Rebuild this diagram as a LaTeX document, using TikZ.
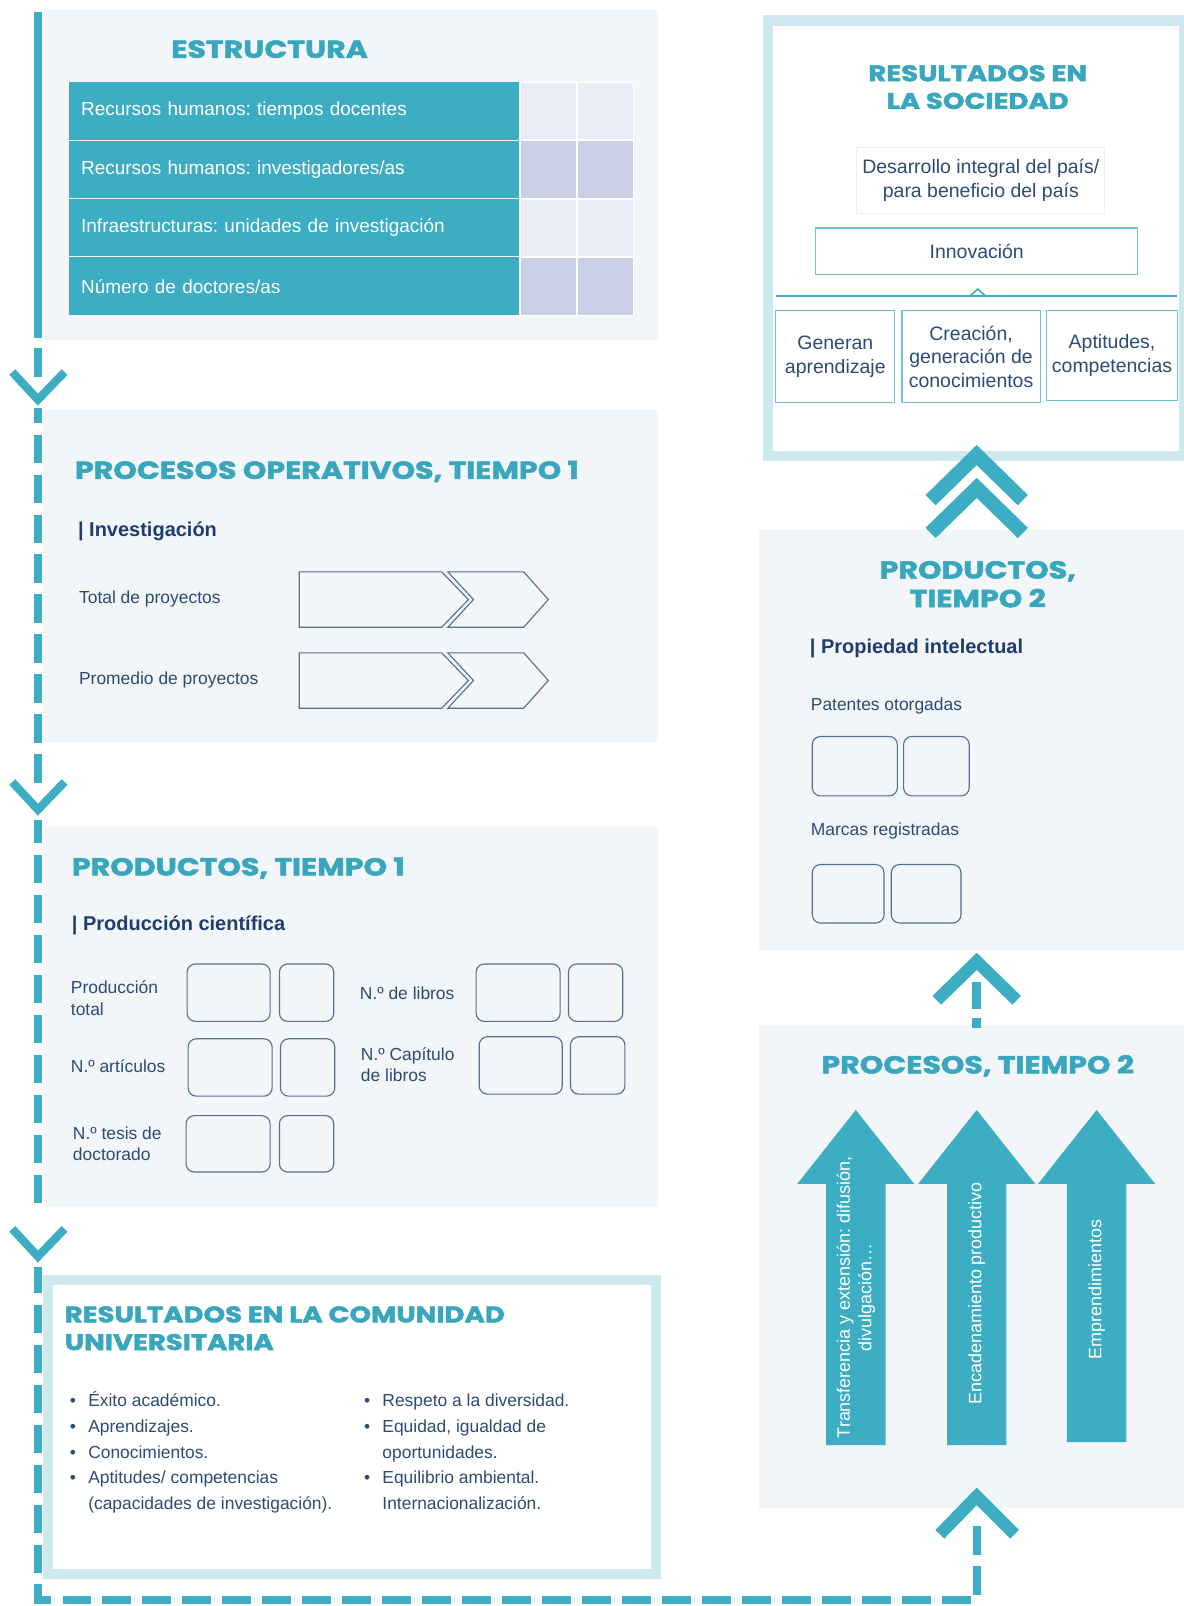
\documentclass[tikz,border=0pt]{standalone}
\usepackage{fontspec}
\setmainfont{Liberation Sans}
\newfontfamily\headfont{Poppins}[FakeStretch=1.22, BoldFeatures={FakeBold=2}]
\usetikzlibrary{positioning,arrows.meta}
\definecolor{tealmain}{HTML}{3CADC2}
\definecolor{tealtitle}{HTML}{38A6BD}
\definecolor{navy}{HTML}{1E3C6E}
\definecolor{bodytext}{HTML}{2D4B74}
\definecolor{panelbg}{HTML}{F3F6F8}
\definecolor{paleblue}{HTML}{CFE8EF}
\definecolor{cellA}{HTML}{E9ECF6}
\definecolor{cellB}{HTML}{C9D0E6}
\definecolor{boxline}{HTML}{56708F}
\newcommand{\bodyfont}{\fontsize{17}{21}\selectfont}
\frenchspacing
\tikzset{%
  % Specifications for style of nodes:
       panel/.style = {rectangle, fill=panelbg, anchor=north west, inner sep=0pt},
      resbox/.style = {rectangle, draw=paleblue, line width=10pt, fill=white,
                       anchor=north west, inner sep=0pt},
       title/.style = {font=\headfont\bfseries\fontsize{24}{28}\selectfont,
                       text=tealtitle, align=center, inner sep=0pt},
    restitle/.style = {title, font=\headfont\bfseries\fontsize{22}{27}\selectfont},
     subhead/.style = {font=\bfseries\fontsize{19.5}{23}\selectfont, text=navy,
                       anchor=west, inner sep=0pt},
       label/.style = {font=\bodyfont, text=bodytext, anchor=west,
                       align=left, inner sep=0pt},
     rowcell/.style = {rectangle, fill=tealmain, text=white, anchor=north west,
                       minimum height=56pt, text width=415pt, inner xsep=12pt,
                       font=\fontsize{18.5}{22}\selectfont, align=left},
       cellA/.style = {rectangle, fill=cellA, draw=white, minimum height=56pt,
                       minimum width=55pt, inner sep=0pt},
       cellB/.style = {cellA, fill=cellB},
     valbox/.style = {rectangle, rounded corners=8pt, draw=boxline,
                       line width=1.1pt, anchor=north west, inner sep=0pt},
     resitem/.style = {rectangle, draw=tealmain!75, line width=1.2pt,
                       font=\fontsize{19}{23}\selectfont, text=bodytext,
                       align=center, inner sep=0pt},
    procstep/.style = {draw=boxline, line width=1.1pt, line join=miter},
    bigarrow/.style = {fill=tealmain},
   arrowtext/.style = {rotate=90, text=white, align=center,
                       font=\fontsize{17.5}{21}\selectfont, inner sep=0pt},
    flowline/.style = {draw=tealmain, line width=8pt},
    flowdash/.style = {flowline, dash pattern=on 28pt off 11pt},
        chev/.style = {draw=tealmain, line width=8pt, line join=miter},
}

\begin{document}
\begin{tikzpicture}[x=1pt, y=-1pt]
  \useasboundingbox (0,0) rectangle (1155,1567);
  % Panels of the left column
    \node (estructura)  [panel, minimum width=600pt, minimum height=322pt] at (42,10) {};
    \node (operativos)  [panel, minimum width=600pt, minimum height=324pt] at (42,400) {};
    \node (productosA)  [panel, minimum width=600pt, minimum height=370pt] at (42,807) {};
    \node (comunidad)   [resbox, minimum width=593pt, minimum height=287pt] at (42,1244) {};
  % Panels of the right column
    \node (sociedad)    [resbox, minimum width=406pt, minimum height=425pt] at (744,15) {};
    \node (productosB)  [panel, minimum width=415pt, minimum height=410pt] at (740,517) {};
    \node (procesosB)   [panel, minimum width=415pt, minimum height=471pt] at (740,1000) {};

  % Flow line on the left and at the bottom (drawn from each chevron backwards)
    \coordinate (flowTop)    at (37,12);
    \coordinate (flowSolid)  at (37,330);
    \coordinate (flowA)      at (37,368);
    \coordinate (flowB)      at (37,398);
    \coordinate (flowC)      at (37,764);
    \coordinate (flowD)      at (37,800);
    \coordinate (flowE)      at (37,1174);
    \coordinate (flowF)      at (37,1236);
    \coordinate (flowCorner) at (37,1561);
    \coordinate (flowTurn)   at (953,1561);
    \coordinate (flowEnd)    at (953,1489);
    \draw[flowline] (flowTop) -- (flowSolid);
    \draw[flowline] (37,340) -- (flowA);
    \draw[flowdash] (flowC) -- (flowB);
    \draw[flowdash] (flowE) -- (flowD);
    \draw[flowdash] (flowEnd) -- (flowTurn) -- (flowCorner) -- (flowF);
    \draw[chev] (12,363) -- (37,390) -- (63,363);
    \draw[chev] (12,763) -- (37,790) -- (63,763);
    \draw[chev] (12,1199) -- (37,1226) -- (63,1199);
  % Chevrons on the right
    \draw[chev, line width=12pt] (917,1497) -- (953,1460) -- (990,1497);
    \coordinate (linkTop)    at (953,958);
    \coordinate (linkBottom) at (953,1003);
    \draw[flowdash, line width=9pt, dash pattern=on 26pt off 9pt] (linkTop) -- (linkBottom);
    \draw[chev, line width=12pt] (914,976) -- (953,938) -- (992,976);
    \draw[chev, line width=14pt] (908,488) -- (953,444) -- (998,488);
    \draw[chev, line width=14pt] (908,520) -- (953,476) -- (998,520);

  % ESTRUCTURA
    \node (estTitle) [title] at (263,48) {ESTRUCTURA};
    \node (rowA) [rowcell] at (67,80)  {Recursos humanos: tiempos docentes};
    \node (rowB) [rowcell] at (67,137) {Recursos humanos: investigadores/as};
    \node (rowC) [rowcell] at (67,194) {Infraestructuras: unidades de investigación};
    \node (rowD) [rowcell] at (67,251) {Número de doctores/as};
    \node (rowA1) [cellA, right=1pt of rowA] {};  \node (rowA2) [cellA, right=0pt of rowA1] {};
    \node (rowB1) [cellB, right=1pt of rowB] {};  \node (rowB2) [cellB, right=0pt of rowB1] {};
    \node (rowC1) [cellA, right=1pt of rowC] {};  \node (rowC2) [cellA, right=0pt of rowC1] {};
    \node (rowD1) [cellB, right=1pt of rowD] {};  \node (rowD2) [cellB, right=0pt of rowD1] {};

  % PROCESOS OPERATIVOS, TIEMPO 1
    \node (opTitle) [title, anchor=west] at (73,460) {PROCESOS OPERATIVOS, TIEMPO 1};
    \node (opSub)   [subhead] at (76,518) {| Investigación};
    \node (opTotal) [label] at (77,584) {Total de proyectos};
    \node (opMean)  [label] at (77,663) {Promedio de proyectos};
    \draw[procstep] (292,558) -- (431,558) -- (457,585) -- (431,612) -- (292,612) -- cycle;
    \draw[procstep] (437,558) -- (511,558) -- (535,585) -- (511,612) -- (437,612) -- (462,585) -- cycle;
    \draw[procstep] (292,637) -- (431,637) -- (457,664) -- (431,691) -- (292,691) -- cycle;
    \draw[procstep] (437,637) -- (511,637) -- (535,664) -- (511,691) -- (437,691) -- (462,664) -- cycle;

  % PRODUCTOS, TIEMPO 1
    \node (paTitle) [title, anchor=west] at (70,847) {PRODUCTOS, TIEMPO 1};
    \node (paSub)   [subhead] at (70,903) {| Producción científica};
    \node (paTotal) [label] at (69,974) {Producción\\total};
    \node (paArt)   [label] at (69,1040) {N.º artículos};
    \node (paTesis) [label] at (71,1116) {N.º tesis de\\doctorado};
    \node (paLib)   [label] at (351,969) {N.º de libros};
    \node (paCap)   [label] at (352,1039) {N.º Capítulo\\de libros};
    \node (paTotal1) [valbox, minimum width=81pt, minimum height=56pt] at (182,940) {};
    \node (paTotal2) [valbox, minimum width=53pt, minimum height=56pt, right=8pt of paTotal1] {};
    \node (paArt1)   [valbox, minimum width=82pt, minimum height=56pt] at (183,1013) {};
    \node (paArt2)   [valbox, minimum width=53pt, minimum height=56pt, right=7pt of paArt1] {};
    \node (paTesis1) [valbox, minimum width=82pt, minimum height=55pt] at (181,1088) {};
    \node (paTesis2) [valbox, minimum width=53pt, minimum height=55pt, right=8pt of paTesis1] {};
    \node (paLib1)   [valbox, minimum width=82pt, minimum height=56pt] at (464,940) {};
    \node (paLib2)   [valbox, minimum width=53pt, minimum height=56pt, right=7pt of paLib1] {};
    \node (paCap1)   [valbox, minimum width=81pt, minimum height=56pt] at (467,1011) {};
    \node (paCap2)   [valbox, minimum width=53pt, minimum height=56pt, right=7pt of paCap1] {};

  % RESULTADOS EN LA COMUNIDAD UNIVERSITARIA
    \node (coTitle) [restitle, anchor=west, align=left] at (63,1296)
                    {RESULTADOS EN LA COMUNIDAD\\UNIVERSITARIA};
    \node (coLeft)  [label, anchor=north west, font=\fontsize{17}{25}\selectfont] at (68,1355)
      {\begin{tabular}{@{}l@{\hspace{12pt}}l@{}}
        \textbullet & Éxito académico.\\
        \textbullet & Aprendizajes.\\
        \textbullet & Conocimientos.\\
        \textbullet & Aptitudes/ competencias\\
                    & (capacidades de investigación).
       \end{tabular}};
    \node (coRight) [label, anchor=north west, font=\fontsize{17}{25}\selectfont] at (355,1355)
      {\begin{tabular}{@{}l@{\hspace{12pt}}l@{}}
        \textbullet & Respeto a la diversidad.\\
        \textbullet & Equidad, igualdad de\\
                    & oportunidades.\\
        \textbullet & Equilibrio ambiental.\\
                    & Internacionalización.
       \end{tabular}};

  % RESULTADOS EN LA SOCIEDAD
    \node (soTitle) [restitle] at (954,85) {RESULTADOS EN\\LA SOCIEDAD};
    \node (soDes)   [resitem, draw=black!6, line width=0.8pt, minimum width=242pt,
                     minimum height=64pt] at (957,176) {Desarrollo integral del país/\\para beneficio del país};
    \node (soInn)   [resitem, minimum width=314pt, minimum height=45pt] at (953,245) {Innovación};
    \coordinate (soLineL) at (757,289);
    \coordinate (soLineR) at (1148,289);
    \draw[draw=tealmain, line width=2pt] (soLineL) -- (soLineR);
    \draw[draw=tealmain, line width=1.5pt] (946,289) -- (954,282) -- (962,289);
    \node (soGen)   [resitem, minimum width=116pt, minimum height=90pt] at (815,348)
                    {Generan\\aprendizaje};
    \node (soCre)   [resitem, minimum width=135pt, minimum height=90pt] at (947.5,348)
                    {Creación,\\generación de\\conocimientos};
    \node (soApt)   [resitem, minimum width=128pt, minimum height=88pt] at (1085,347)
                    {Aptitudes,\\competencias};

  % PRODUCTOS, TIEMPO 2
    \node (pbTitle) [title] at (954,570) {PRODUCTOS,\\TIEMPO 2};
    \node (pbSub)   [subhead] at (790,633) {| Propiedad intelectual};
    \node (pbPat)   [label] at (791,689) {Patentes otorgadas};
    \node (pbMar)   [label] at (791,811) {Marcas registradas};
    \node (pbPat1)  [valbox, minimum width=83pt, minimum height=58pt] at (792,718) {};
    \node (pbPat2)  [valbox, minimum width=64pt, minimum height=58pt, right=5pt of pbPat1] {};
    \node (pbMar1)  [valbox, minimum width=70pt, minimum height=57pt] at (792,843) {};
    \node (pbMar2)  [valbox, minimum width=68pt, minimum height=57pt, right=6pt of pbMar1] {};

  % PROCESOS, TIEMPO 2
    \node (prTitle) [title] at (954,1040) {PROCESOS, TIEMPO 2};
    \fill[bigarrow] (835,1083) -- (892,1155) -- (864,1155) -- (864,1410) -- (806,1410)
                    -- (806,1155) -- (778,1155) -- cycle;
    \fill[bigarrow] (953,1083) -- (1010,1155) -- (982,1155) -- (982,1410) -- (924,1410)
                    -- (924,1155) -- (896,1155) -- cycle;
    \fill[bigarrow] (1070,1083) -- (1127,1155) -- (1099,1155) -- (1099,1407) -- (1041,1407)
                    -- (1041,1155) -- (1013,1155) -- cycle;
    \node (prTrans) [arrowtext] at (835,1266) {Transferencia y extensión: difusión,\\divulgación…};
    \node (prEnc)   [arrowtext] at (953,1262) {Encadenamiento productivo};
    \node (prEmp)   [arrowtext] at (1070,1258) {Emprendimientos};
\end{tikzpicture}
\end{document}
